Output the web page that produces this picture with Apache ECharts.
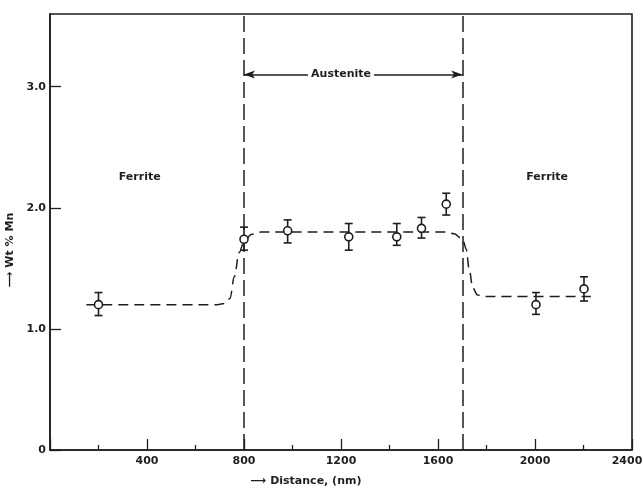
<!DOCTYPE html>
<html><head><meta charset="utf-8">
<script src="https://cdn.jsdelivr.net/npm/echarts@6/dist/echarts.min.js"></script>
<style>html,body{margin:0;padding:0;background:#fff}#c{width:644px;height:488px}</style>
</head><body><div id="c"></div>
<script>
// measured points (Distance nm, Wt % Mn) with error bar ends
const ptX   = [200, 800, 980, 1232, 1430, 1532, 1634, 2004, 2202];
const ptY   = [1.20, 1.74, 1.81, 1.76, 1.76, 1.83, 2.03, 1.20, 1.33];
const errLo = [1.11, 1.65, 1.71, 1.65, 1.69, 1.75, 1.94, 1.12, 1.23];
const errHi = [1.30, 1.84, 1.90, 1.87, 1.87, 1.92, 2.12, 1.30, 1.43];
// dashed fitted profile
const curveX = [150, 690, 720, 742, 760, 780, 800, 830, 870, 950, 1600, 1630, 1667, 1695, 1705, 1716, 1729, 1743, 1763, 1790, 1850, 2230];
const curveY = [1.20, 1.20, 1.21, 1.25, 1.43, 1.63, 1.72, 1.78, 1.80, 1.80, 1.80, 1.80, 1.785, 1.75, 1.72, 1.66, 1.49, 1.34, 1.28, 1.267, 1.267, 1.267];
// phase boundaries and annotations
const boundaryX = [800, 1700];
const arrowY = 3.10;
const austeniteLabel = {x: 1200, y: 3.10, text: 'Austenite'};
const ferriteLabels = [{x: 370, y: 2.25, text: 'Ferrite'}, {x: 2050, y: 2.25, text: 'Ferrite'}];
const yTickVals = [0, 1, 2, 3];
const yTickLabels = ['0', '1.0', '2.0', '3.0'];
const xTickVals = [400, 800, 1200, 1600, 2000, 2400];

const ink = '#1e1e1e';
const font = 'DejaVu Sans';
const chart = echarts.init(document.getElementById('c'));

const curveData = curveX.map((x, i) => [x, curveY[i]]);
const pts = ptX.map((x, i) => [x, ptY[i]]);
const errData = ptX.map((x, i) => [x, errLo[i], errHi[i]]);
const lastX = xTickVals[xTickVals.length - 1];

chart.setOption({
  animation: false,
  backgroundColor: '#fff',
  grid: {left: 50, right: 12, top: 14, bottom: 38, outerBoundsMode: 'none', containLabel: false,
    show: true, borderColor: ink, borderWidth: 1.6, backgroundColor: 'transparent'},
  xAxis: {
    type: 'value', min: 0, max: 2400, interval: 400,
    name: '⟶ Distance, (nm)', nameLocation: 'middle', nameGap: 26,
    nameTextStyle: {fontFamily: font, fontWeight: 'bold', fontSize: 11, color: ink, padding: [0, 70, 0, 0]},
    axisLine: {show: true, lineStyle: {color: ink, width: 1.6}},
    axisTick: {show: true, inside: true, length: 11, lineStyle: {color: ink, width: 1.3}},
    minorTick: {show: true, splitNumber: 2, length: 5, lineStyle: {color: ink, width: 1.3}},
    splitLine: {show: false},
    axisLabel: {fontFamily: font, fontWeight: 'bold', fontSize: 11, color: ink, margin: 6,
      formatter: v => v === lastX ? '{r|' + v + '}' : (xTickVals.indexOf(v) >= 0 ? String(v) : ''),
      rich: {r: {fontFamily: font, fontWeight: 'bold', fontSize: 11, color: ink, padding: [0, 10, 0, 0]}}}
  },
  yAxis: {
    type: 'value', min: 0, max: 3.6,
    name: '⟶ Wt % Mn', nameLocation: 'middle', nameGap: 30, nameRotate: 90,
    nameTextStyle: {fontFamily: font, fontWeight: 'bold', fontSize: 11, color: ink, padding: [0, 36, 0, 0]},
    axisLine: {show: true, lineStyle: {color: ink, width: 1.6}},
    axisTick: {show: true, inside: true, length: 11, customValues: yTickVals, lineStyle: {color: ink, width: 1.3}},
    splitLine: {show: false},
    axisLabel: {fontFamily: font, fontWeight: 'bold', fontSize: 11, color: ink, margin: 4, customValues: yTickVals,
      formatter: v => { const i = yTickVals.indexOf(Math.round(v * 1000) / 1000); return i >= 0 ? yTickLabels[i] : ''; }}
  },
  series: [
    {
      type: 'line', data: curveData, smooth: 0.35, smoothMonotone: 'x', showSymbol: false, symbol: 'none',
      lineStyle: {color: ink, width: 1.5, type: [10, 6]}, z: 2
    },
    {
      type: 'line', data: [], symbol: 'none',
      markLine: {
        silent: true, symbol: ['none', 'none'], label: {show: false},
        lineStyle: {color: ink, width: 1.5, type: [16, 6]},
        data: boundaryX.map(x => [{coord: [x, 0]}, {coord: [x, 3.6]}])
      }
    },
    {
      type: 'line', data: [], symbol: 'none',
      markLine: {
        silent: true, symbol: ['arrow', 'arrow'], symbolSize: [6, 11], label: {show: false},
        lineStyle: {color: ink, width: 1.5, type: 'solid'},
        data: [[{coord: [boundaryX[0], arrowY]}, {coord: [boundaryX[1], arrowY]}]]
      }
    },
    {
      type: 'custom', z: 4,
      renderItem: (params, api) => {
        const top = api.coord([api.value(0), api.value(2)]);
        const bot = api.coord([api.value(0), api.value(1)]);
        const cw = 4;
        const st = {stroke: ink, lineWidth: 1.6};
        return {type: 'group', children: [
          {type: 'line', shape: {x1: top[0], y1: top[1], x2: bot[0], y2: bot[1]}, style: st},
          {type: 'line', shape: {x1: top[0] - cw, y1: top[1], x2: top[0] + cw, y2: top[1]}, style: st},
          {type: 'line', shape: {x1: bot[0] - cw, y1: bot[1], x2: bot[0] + cw, y2: bot[1]}, style: st}
        ]};
      },
      encode: {x: 0, y: [1, 2]},
      data: errData
    },
    {
      type: 'scatter', data: pts, symbol: 'circle', symbolSize: 8, z: 5,
      itemStyle: {color: '#fff', borderColor: ink, borderWidth: 1.6, opacity: 1}
    },
    {
      type: 'scatter', symbolSize: 0, z: 6, silent: true,
      itemStyle: {opacity: 1},
      data: [[austeniteLabel.x, austeniteLabel.y, austeniteLabel.text]],
      label: {show: true, position: 'inside', formatter: p => p.value[2], fontFamily: font, fontWeight: 'bold',
        fontSize: 11, color: ink, backgroundColor: '#fff', padding: [1, 3]}
    },
    {
      type: 'scatter', symbolSize: 0, z: 6, silent: true,
      itemStyle: {opacity: 1},
      data: ferriteLabels.map(f => [f.x, f.y, f.text]),
      label: {show: true, position: 'inside', formatter: p => p.value[2], fontFamily: font, fontWeight: 'bold',
        fontSize: 11, color: ink}
    }
  ]
});
</script>
</body></html>
